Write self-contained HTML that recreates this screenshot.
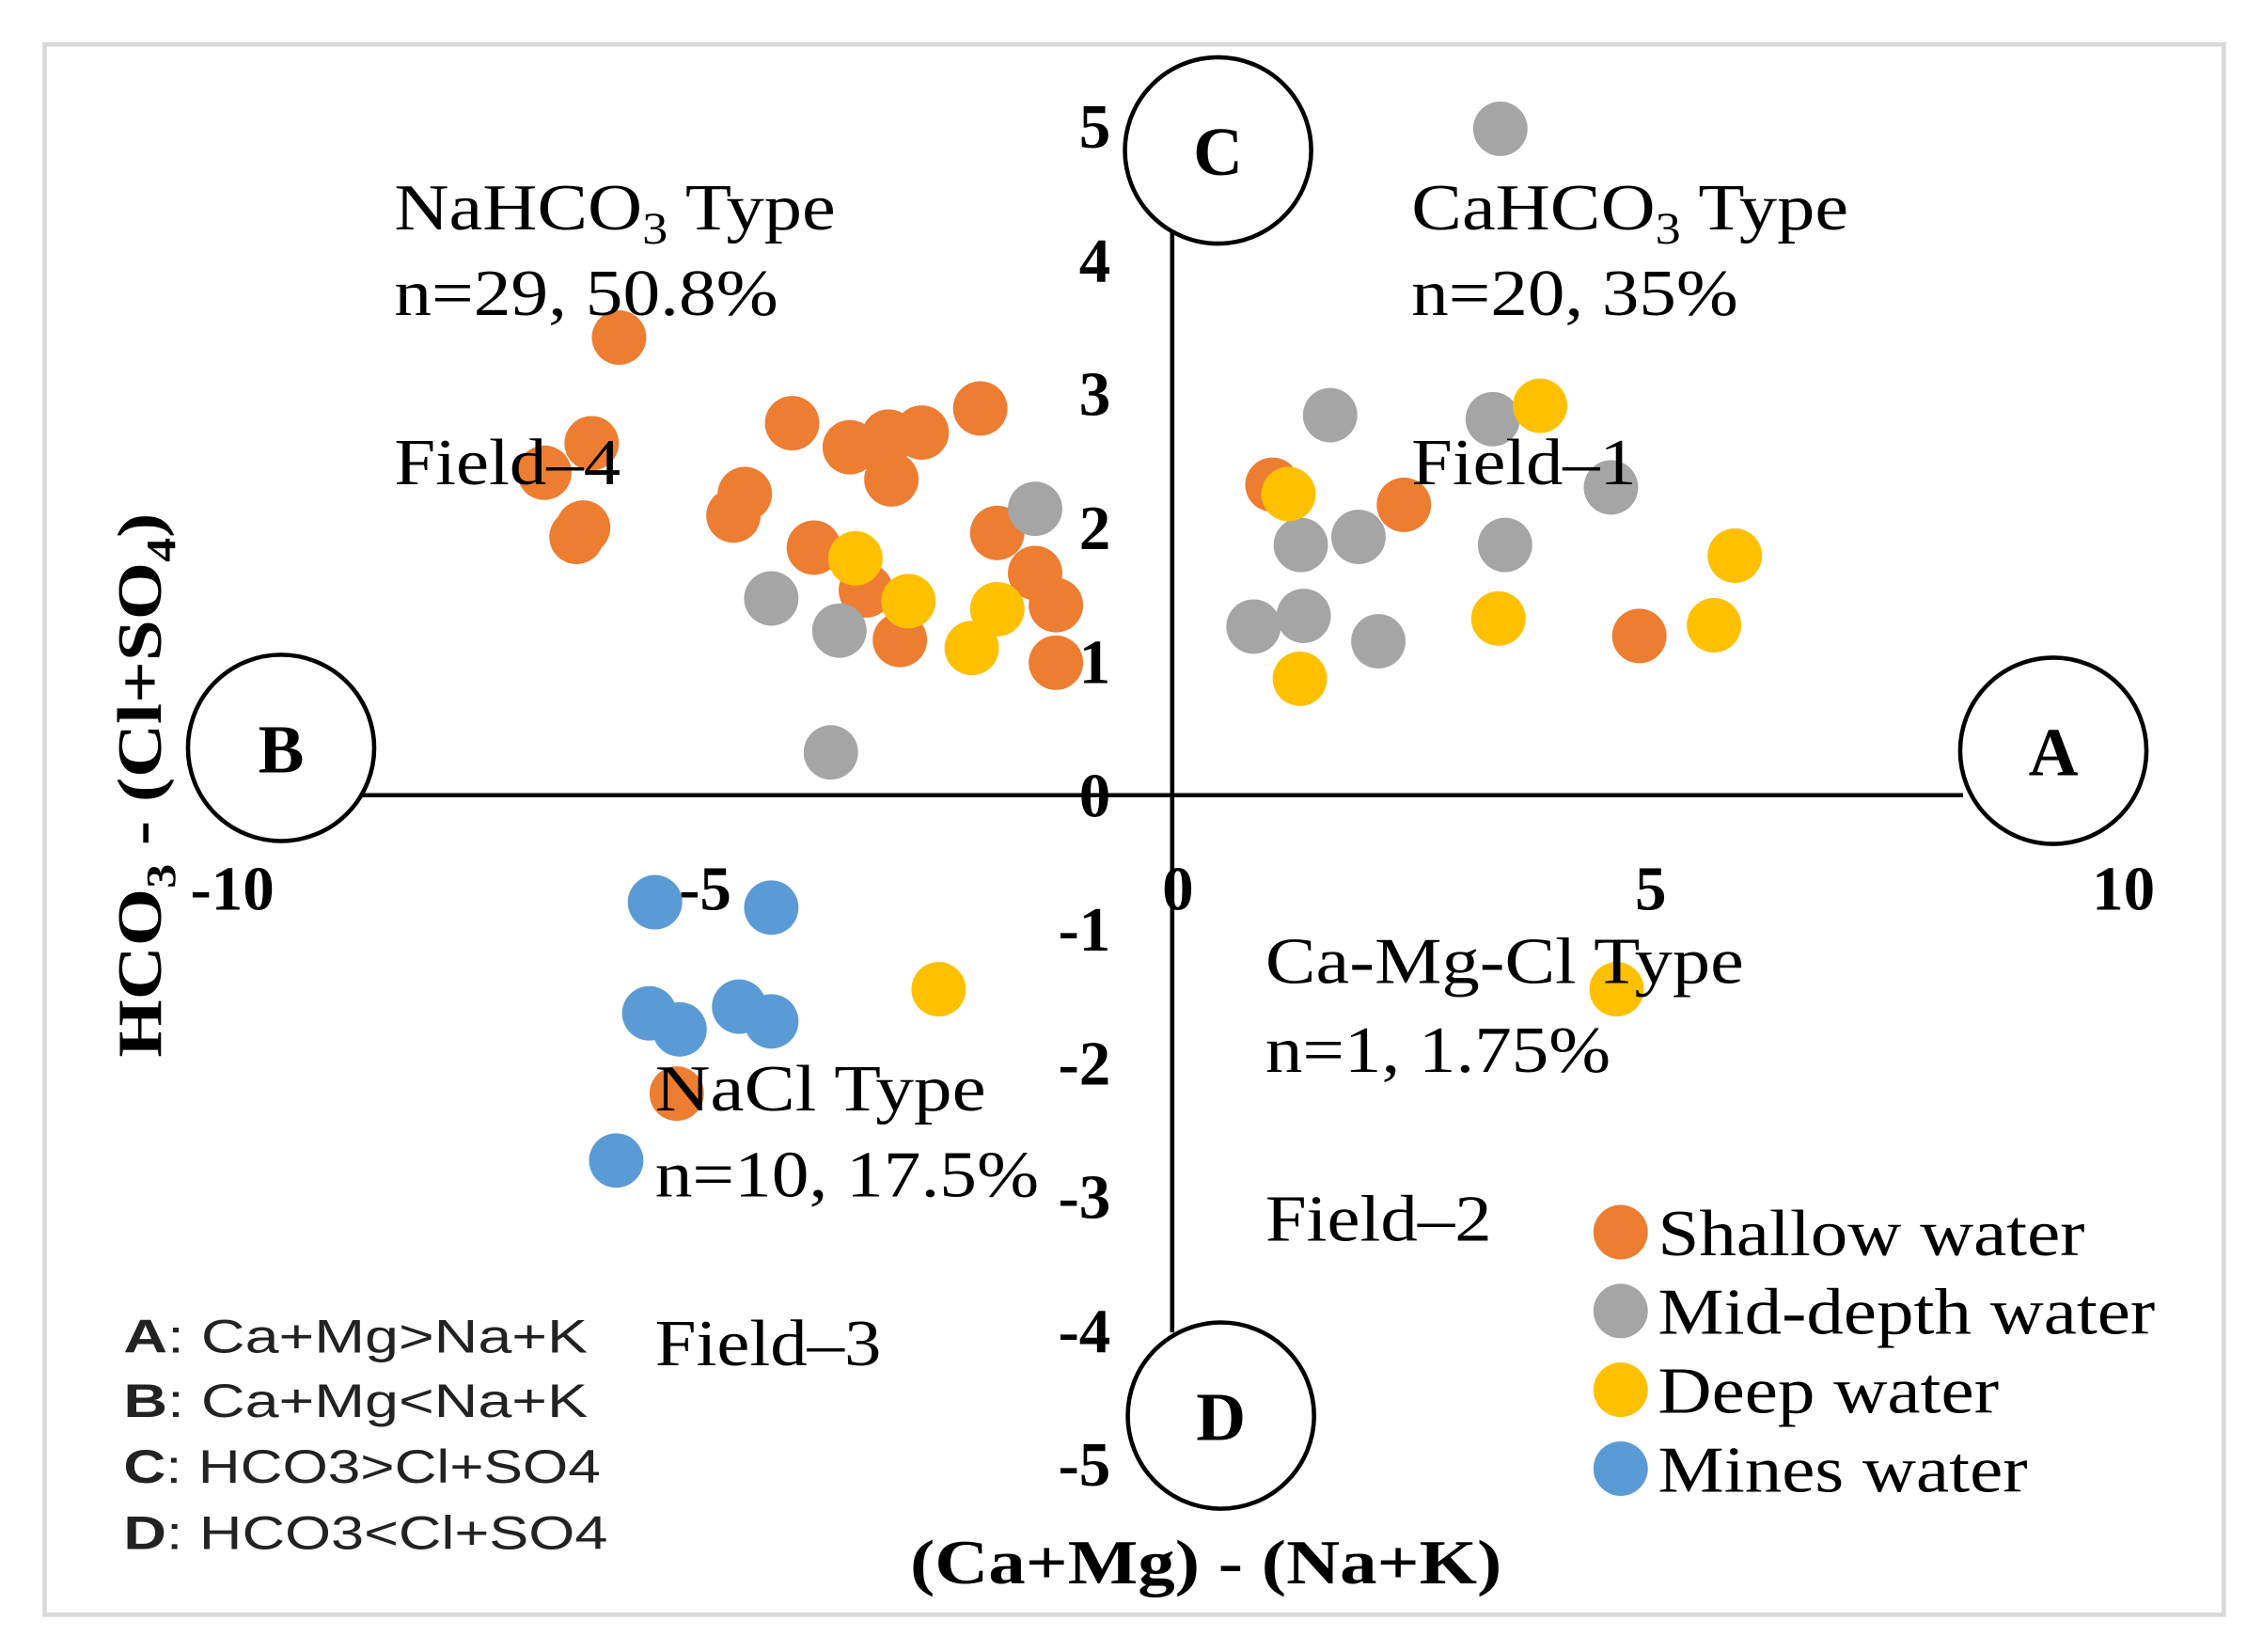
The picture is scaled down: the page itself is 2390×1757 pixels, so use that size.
<!DOCTYPE html>
<html><head><meta charset="utf-8"><style>html,body{margin:0;padding:0;background:#fff}svg{display:block}</style></head>
<body>
<svg width="2390" height="1757" viewBox="0 0 1568 1153" xmlns="http://www.w3.org/2000/svg">
<rect x="31" y="31" width="1521" height="1096" fill="#fff" stroke="#d9d9d9" stroke-width="3"/>
<g id="axes"></g>
<g id="marks"></g>
<g id="labels" font-family="Liberation Serif, serif" fill="#000" font-size="46">
<text x="275" y="160" textLength="308" lengthAdjust="spacingAndGlyphs">NaHCO<tspan font-size="31" dy="10">3</tspan><tspan dy="-10"> Type</tspan></text>
<text x="275" y="220" textLength="268" lengthAdjust="spacingAndGlyphs">n=29, 50.8%</text>
<text x="275" y="338" textLength="158" lengthAdjust="spacingAndGlyphs">Field–4</text>
<text x="985" y="160" textLength="305" lengthAdjust="spacingAndGlyphs">CaHCO<tspan font-size="31" dy="10">3</tspan><tspan dy="-10"> Type</tspan></text>
<text x="985" y="220" textLength="228" lengthAdjust="spacingAndGlyphs">n=20, 35%</text>
<text x="985" y="338" textLength="157" lengthAdjust="spacingAndGlyphs">Field–1</text>
<text x="883" y="686" textLength="334" lengthAdjust="spacingAndGlyphs">Ca-Mg-Cl Type</text>
<text x="883" y="748" textLength="241" lengthAdjust="spacingAndGlyphs">n=1, 1.75%</text>
<text x="883" y="866" textLength="158" lengthAdjust="spacingAndGlyphs">Field–2</text>
<text x="457" y="775" textLength="231" lengthAdjust="spacingAndGlyphs">NaCl Type</text>
<text x="457" y="835" textLength="268" lengthAdjust="spacingAndGlyphs">n=10, 17.5%</text>
<text x="457" y="953" textLength="158" lengthAdjust="spacingAndGlyphs">Field–3</text>
<text x="635" y="1105" font-size="44" font-weight="bold" textLength="413" lengthAdjust="spacingAndGlyphs">(Ca+Mg) - (Na+K)</text>
<text transform="translate(112,738) rotate(-90)" font-size="44" font-weight="bold" textLength="380" lengthAdjust="spacingAndGlyphs">HCO<tspan font-size="29" dy="10">3</tspan><tspan dy="-10"> - (Cl+SO</tspan><tspan font-size="29" dy="10">4</tspan><tspan dy="-10">)</tspan></text>
</g>
<g font-family="Liberation Sans, sans-serif" font-size="33" fill="#222">
<text x="86" y="944" textLength="324" lengthAdjust="spacingAndGlyphs"><tspan font-weight="bold">A</tspan>: Ca+Mg&gt;Na+K</text>
<text x="86" y="989" textLength="324" lengthAdjust="spacingAndGlyphs"><tspan font-weight="bold">B</tspan>: Ca+Mg&lt;Na+K</text>
<text x="86" y="1035" textLength="333" lengthAdjust="spacingAndGlyphs"><tspan font-weight="bold">C</tspan>: HCO3&gt;Cl+SO4</text>
<text x="86" y="1081" textLength="338" lengthAdjust="spacingAndGlyphs"><tspan font-weight="bold">D</tspan>: HCO3&lt;Cl+SO4</text>
</g>
<g id="legend" font-family="Liberation Serif, serif" font-size="46"></g>
</svg>
<script>
const xTicks=[-10,-5,0,5,10];
const xTickLabels=["-10","-5","0","5","10"];
const yTicks=[-5,-4,-3,-2,-1,0,1,2,3,4,5];
const yTickLabels=["-5","-4","-3","-2","-1","0","1","2","3","4","5"];
const seriesNames=["Shallow water","Mid-depth water","Deep water","Mines water"];
const seriesColors=["#ed7d31","#a5a5a5","#ffc000","#5b9bd5"];
const legendWidths=[298,347,238,258];
const shallowX=[-5.85,-6.14,-6.64,-6.23,-6.30,-4.52,-4.64,-4.02,-3.41,-3.00,-2.65,-2.97,-2.03,-3.79,-3.24,-2.88,-1.85,-1.45,-1.23,-1.23,1.06,2.45,4.94,-5.24];
const shallowY=[3.42,2.63,2.41,2.00,1.93,2.25,2.09,2.78,2.60,2.68,2.71,2.36,2.89,1.85,1.53,1.16,1.96,1.66,1.42,0.99,2.32,2.17,1.19,-2.23];
const midX=[3.47,1.67,3.39,4.64,-1.45,1.36,1.97,3.52,-4.24,-3.52,0.86,1.39,2.18,-3.61];
const midY=[4.98,2.84,2.81,2.30,2.14,1.87,1.93,1.87,1.47,1.23,1.26,1.34,1.15,0.32];
const deepX=[3.89,1.23,5.95,-3.35,-2.79,-1.85,-2.12,3.45,5.73,1.35,-2.47,4.70];
const deepY=[2.91,2.25,1.79,1.77,1.45,1.39,1.10,1.32,1.27,0.87,-1.45,-1.45];
const minesX=[-5.47,-4.24,-5.53,-5.21,-4.58,-4.24,-5.88];
const minesY=[-0.80,-0.84,-1.63,-1.75,-1.58,-1.69,-2.73];
const NS="http://www.w3.org/2000/svg";
const sx=v=>818+66*v, sy=v=>555-93.4*v;
function mk(t,a,p){const e=document.createElementNS(NS,t);for(const k in a)e.setAttribute(k,a[k]);p.appendChild(e);return e;}
const axes=document.getElementById('axes');
let l=mk('line',{x1:250,y1:sy(0),x2:1370,y2:sy(0),stroke:'#000','stroke-width':3},axes);


l=mk('line',{x1:sx(0),y1:160,x2:sx(0),y2:930,stroke:'#000','stroke-width':3},axes);


xTicks.forEach((v,i)=>{const t=mk('text',{x:sx(v)+4,y:635,'font-family':'Liberation Serif, serif','font-size':44,'font-weight':'bold','text-anchor':'middle'},axes);t.textContent=xTickLabels[i];

});
yTicks.forEach((v,i)=>{const t=mk('text',{x:775,y:sy(v)+15,'font-family':'Liberation Serif, serif','font-size':44,'font-weight':'bold','text-anchor':'end'},axes);t.textContent=yTickLabels[i];

});
const marks=document.getElementById('marks');
const sets=[[shallowX,shallowY],[midX,midY],[deepX,deepY],[minesX,minesY]];
const snames=['shallow-point','mid-depth-point','deep-point','mines-point'];
sets.forEach((s,si)=>s[0].forEach((x,i)=>{const c=mk('circle',{cx:sx(x),cy:sy(s[1][i]),r:19,fill:seriesColors[si]},marks);

}));
[['C',850,105,'circle-c'],['B',196,522,'circle-b'],['A',1433,524,'circle-a'],['D',852,988,'circle-d']].forEach(d=>{
const c=mk('circle',{cx:d[1],cy:d[2],r:65,fill:'#fff',stroke:'#000','stroke-width':3},axes);


const t=mk('text',{x:d[1],y:d[2]+17,'font-family':'Liberation Serif, serif','font-size':48,'font-weight':'bold','text-anchor':'middle'},axes);t.textContent=d[0];

});
const lg=document.getElementById('legend');
seriesNames.forEach((n,i)=>{const y=860+55*i;
const c=mk('circle',{cx:1131,cy:y,r:19,fill:seriesColors[i]},lg);


const t=mk('text',{x:1157,y:y+16,textLength:legendWidths[i],lengthAdjust:'spacingAndGlyphs'},lg);t.textContent=n;

});
</script>
</body></html>
